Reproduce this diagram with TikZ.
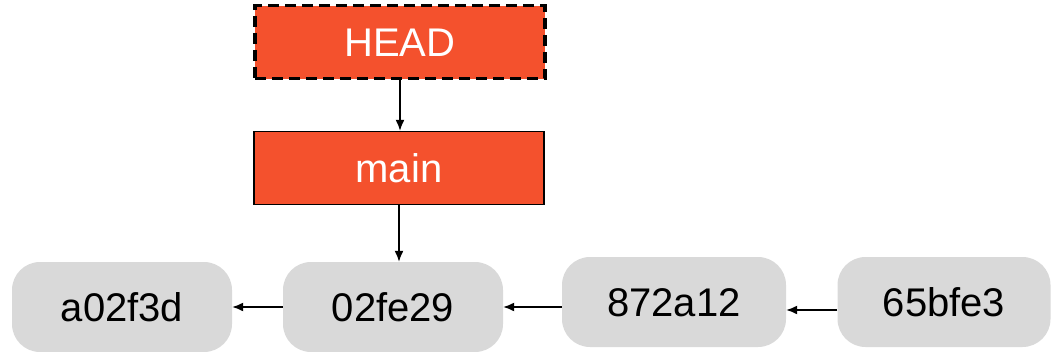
\documentclass[tikz,border=0pt]{standalone}
\usepackage{fontspec}
\setmainfont{Liberation Sans}
\usetikzlibrary{arrows.meta,positioning}
\definecolor{reforange}{RGB}{244,81,45}
\definecolor{commitgray}{RGB}{217,217,217}

\begin{document}
\begin{tikzpicture}[x=1pt,y=-1pt]
    \tikzset{label text/.style={font=\fontsize{40}{48}\selectfont,text height=29pt,text depth=0pt,inner sep=0pt}}
    \tikzset{ref/.style={label text,fill=reforange,text=white,draw=black,minimum width=290pt,minimum height=73pt}}
    \tikzset{commit/.style={label text,fill=commitgray,rounded corners=28pt,minimum width=220pt,minimum height=90pt}}
    \tikzset{link/.style={-{Latex[length=11pt,width=9pt]},line width=1.5pt}}
    \useasboundingbox (0,0) rectangle (1051,351);
    % branch pointers
    \node[ref,line width=3.8pt,dash pattern=on 11pt off 6pt] (head) at (400,42) {HEAD};
    \node[ref,line width=1.4pt] (main) at (399,168) {main};
    % commits
    \node[commit] (c1) at (122,307) {a02f3d};
    \node[commit] (c2) at (393,307) {02fe29};
    \node[commit,minimum width=224pt] (c3) at (674,302) {872a12};
    \node[commit,minimum width=213pt] (c4) at (944,302) {65bfe3};
    \draw[link] (head.south) -- (head.south |- main.north);
    \draw[link] (main.south) -- (main.south |- c2.north);
    \draw[link] (c2.west) -- (c1.east);
    \draw[link] (c3.west |- c2) -- (c2.east);
    \draw[link] ([yshift=-8pt]c4.west) -- ([yshift=-8pt]c3.east);
\end{tikzpicture}
\end{document}
